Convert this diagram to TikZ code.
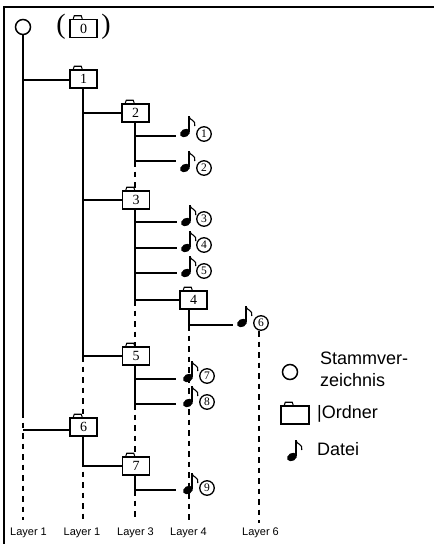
\documentclass[tikz,border=0pt]{standalone}
\usepackage{fontspec}
\setmainfont{Liberation Sans}
\newfontfamily\numfont{Liberation Serif}
\tikzset{
  wire/.style={line width=1.5pt},
  dashwire/.style={line width=1.5pt, dash pattern=on 5.5pt off 5pt},
  rootnode/.style={circle, draw=black, line width=1.5pt, fill=white, minimum size=15pt, inner sep=0pt},
  foldernode/.style={rectangle, draw=black, line width=1.5pt, fill=white, minimum width=27pt, minimum height=18pt, inner sep=0pt,
    font=\numfont\fontsize{14}{14}\selectfont,
    append after command={\pgfextra{
      \draw[line width=1.1pt] ([xshift=4pt]\tikzlastnode.north west) -- ++(1,-3) -- ++(7,0) -- ++(1,3);
    }}},
  notenode/.style={rectangle, minimum width=18pt, minimum height=1pt, inner sep=0pt,
    append after command={\pgfextra{
      \fill[shift={(\tikzlastnode.center)}, rotate=30] (0,0) ellipse [x radius=5.2, y radius=3.9];
      \draw[shift={(\tikzlastnode.center)}, line width=1.6pt] (3.8,-1) -- (3.8,-17);
      \draw[shift={(\tikzlastnode.center)}, line width=1.1pt] (3.8,-16.5) .. controls (5,-12.5) and (11,-13) .. (9.8,-7);
    }}},
  numnode/.style={circle, draw=black, line width=1.3pt, fill=white, minimum size=14.5pt, inner sep=0pt, font=\numfont\fontsize{11.5}{11.5}\selectfont},
  layernode/.style={font=\fontsize{11}{11}\selectfont, inner sep=0pt},
  keynode/.style={anchor=base west, inner sep=0pt, font=\fontsize{18}{22}\selectfont}
}
\begin{document}
\begin{tikzpicture}[x=1pt, y=-1pt]
        \useasboundingbox (0,0) rectangle (434,544);

        % Frame
        \draw[line width=1.7pt] (434,7) -- (4,7) -- (4,544);

        % Define junctions
        \coordinate (t1) at (23,80);
        \coordinate (t2) at (23,412);
        \coordinate (t3) at (23,430);
        \coordinate (a1) at (83,113);
        \coordinate (a2) at (83,200);
        \coordinate (a3) at (83,356);
        \coordinate (b1) at (135,136);
        \coordinate (b2) at (135,161);
        \coordinate (b3) at (135,222);
        \coordinate (b4) at (135,248);
        \coordinate (b5) at (135,273);
        \coordinate (b6) at (135,300);
        \coordinate (b7) at (135,379);
        \coordinate (b8) at (135,404);
        \coordinate (b9) at (135,466);
        \coordinate (b10) at (135,490);
        \coordinate (d1) at (189,309);
        \coordinate (d2) at (189,325);
        \coordinate (e1) at (23,520);
        \coordinate (e2) at (83,520);
        \coordinate (e3) at (135,520);
        \coordinate (e4) at (189,520);
        \coordinate (e5) at (259,331);
        \coordinate (e6) at (259,523);
        \coordinate (a4) at (83,466);

        % Define dashed layers
        \path [dashwire](t2) edge (e1);
        \path [dashwire](a3) edge (e2);
        \path [dashwire](b2) edge (b3 |- 0,191);
        \path [dashwire](b6) edge (b7 |- 0,347);
        \path [dashwire](b8) edge (b9 |- 0,457);
        \path [dashwire](b10) edge (e3);
        \path [dashwire](d2) edge (e4);
        \path [dashwire](e5) edge (e6);

        % Define nodes
        \node[rootnode] (r0) at (23,27) {}; % Root
        \node[foldernode] (f0) at (83.5,28.5) {0};
        \node[font=\numfont\fontsize{28}{28}\selectfont, inner sep=0pt] (pl) at (61,27) {(};
        \node[font=\numfont\fontsize{28}{28}\selectfont, inner sep=0pt] (pr) at (106,27) {)};
        \node[foldernode] (f1) at (83.5,79) {1}; % Child of root
        \node[foldernode] (f2) at (135.5,113) {2}; % Child of 1
        \node[foldernode] (f3) at (136,200) {3}; % Child of 1
        \node[foldernode] (f4) at (193.5,300) {4}; % Child of 3
        \node[foldernode] (f5) at (136,356) {5}; % Child of 1
        \node[foldernode] (f6) at (83.5,427) {6}; % Child of root
        \node[foldernode] (f7) at (136,466) {7}; % Child of 6

        % Define files
        \node[notenode] (n1) at (185,133) {};
        \node[notenode] (n2) at (185,168) {};
        \node[notenode] (n3) at (186,222) {};
        \node[notenode] (n4) at (186,248) {};
        \node[notenode] (n5) at (186,273) {};
        \node[notenode] (n6) at (242,323) {};
        \node[notenode, minimum width=24pt] (n7) at (188,378) {};
        \node[notenode, minimum width=24pt] (n8) at (188,403) {};
        \node[notenode, minimum width=24pt] (n9) at (188,490) {};

        % Define file numbers
        \node[numnode] (c1) at (204,134) {1};
        \node[numnode] (c2) at (204,168) {2};
        \node[numnode] (c3) at (204,219) {3};
        \node[numnode] (c4) at (204,245) {4};
        \node[numnode] (c5) at (204,271) {5};
        \node[numnode] (c6) at (261,323) {6};
        \node[numnode] (c7) at (207,376) {7};
        \node[numnode] (c8) at (207,402) {8};
        \node[numnode] (c9) at (207,488) {9};

        % Define edges
        \path [wire](r0) edge (t2);
        \path [wire](t1) edge (f1.west |- t1);
        \path [wire](t3) edge (f6.west |- t3);
        \path [wire](f1.south -| a1) edge (a3);
        \path [wire](a1) edge (f2.west |- a1);
        \path [wire](a2) edge (f3.west);
        \path [wire](a3) edge (f5.west);
        \path [wire](f2.south -| b1) edge (b2);
        \path [wire](b1) edge (n1.west |- b1);
        \path [wire](b2) edge (n2.west |- b2);
        \path [wire](f3.south -| b3) edge (b6);
        \path [wire](b3) edge (n3.west |- b3);
        \path [wire](b4) edge (n4.west |- b4);
        \path [wire](b5) edge (n5.west |- b5);
        \path [wire](b6) edge (f4.west);
        \path [wire](d1) edge (d2);
        \path [wire](d2) edge (n6.west |- d2);
        \path [wire](f5.south -| b7) edge (b8);
        \path [wire](b7) edge (n7.west |- b7);
        \path [wire](b8) edge (n8.west |- b8);
        \path [wire](f6.south -| a4) edge (a4);
        \path [wire](a4) edge (f7.west);
        \path [wire](f7.south -| b10) edge (b10);
        \path [wire](b10) edge (n9.west |- b10);

        % Layer labels
        \node[layernode] (l1) at (28.5,533) {Layer 1};
        \node[layernode] (l2) at (82,533) {Layer 1};
        \node[layernode] (l3) at (135.5,533) {Layer 3};
        \node[layernode] (l4) at (188.5,533) {Layer 4};
        \node[layernode] (l5) at (260.5,533) {Layer 6};

        % Key
        \node[rootnode] (k1) at (290,372) {};
        \node[keynode] (k1t) at (320,364) {Stammver-};
        \node[keynode] (k1u) at (320,386) {zeichnis};
        \node[foldernode, minimum width=28pt] (k2) at (295,415) {};
        \node[keynode] (k2t) at (317,418) {|Ordner};
        \node[notenode] (k3) at (292,457) {};
        \node[keynode] (k3t) at (317,455) {Datei};
\end{tikzpicture}
\end{document}
